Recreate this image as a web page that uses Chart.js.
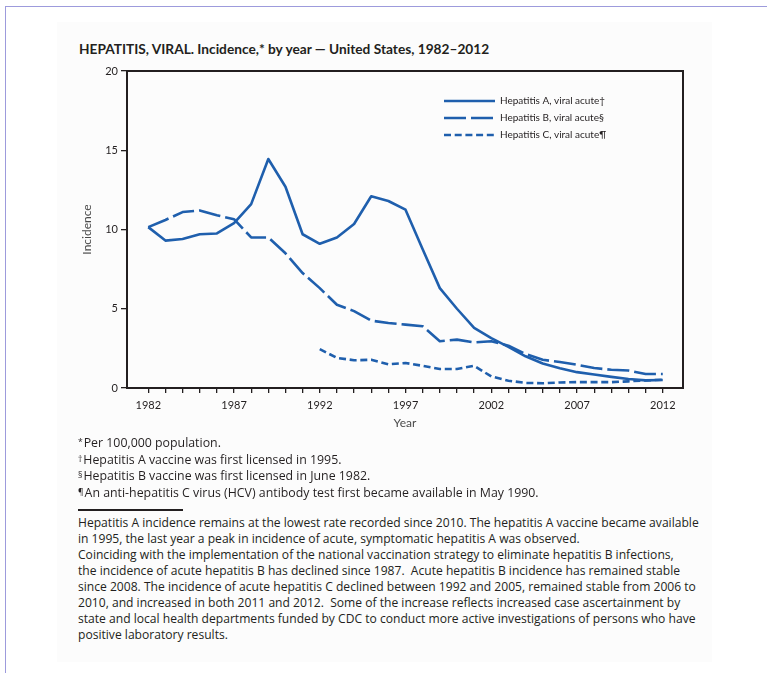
<!DOCTYPE html>
<html>
<head>
<meta charset="utf-8">
<title>Hepatitis, viral — incidence by year</title>
<script src="https://cdn.jsdelivr.net/npm/chart.js@4.4.1/dist/chart.umd.min.js"></script>
<style>
  html, body { margin: 0; padding: 0; background: #fff; }
  body { width: 767px; height: 673px; position: relative; overflow: hidden;
         font-family: "Open Sans", Lato, "Noto Sans", sans-serif; color: #231f20; }
  .frame { position: absolute; left: 5px; top: 6px; width: 800px; height: 700px;
           border-top: 1.5px solid #9d9bdc; border-left: 1.5px solid #9d9bdc; }
  .panel { position: absolute; left: 57px; top: 22px; width: 655px; height: 640px; background: #fcfcfc; }
  .title { position: absolute; left: 79px; top: 41px; font-family: Lato, "Noto Sans", sans-serif;
           font-weight: 700; font-size: 13.7px; line-height: 16px; white-space: nowrap; }
  .chart { position: absolute; left: 60px; top: 60px; width: 640px; height: 380px; }
  .notes { position: absolute; left: 78px; top: 435px; font-size: 12.35px; line-height: 16.6px; white-space: nowrap; }
  .notes sup { font-size: 8.5px; vertical-align: top; position: relative; top: -1px; margin-right: 1px; }
  .rule { position: absolute; left: 78px; top: 509px; width: 105px; height: 2px; background: #231f20; }
  .summary { position: absolute; left: 78px; top: 515px; font-size: 12.1px; line-height: 16px; white-space: nowrap; }
</style>
</head>
<body>
<div class="frame"></div>
<div class="panel"></div>
<div class="title">HEPATITIS, VIRAL. Incidence,* by year — United States, 1982–2012</div>
<div class="chart"><canvas id="incidence"></canvas></div>
<div class="notes">
  <div><sup>*</sup>Per 100,000 population.</div>
  <div><sup>†</sup>Hepatitis A vaccine was first licensed in 1995.</div>
  <div><sup>§</sup>Hepatitis B vaccine was first licensed in June 1982.</div>
  <div><sup>¶</sup>An anti-hepatitis C virus (HCV) antibody test first became available in May 1990.</div>
</div>
<div class="rule"></div>
<div class="summary">
  Hepatitis A incidence remains at the lowest rate recorded since 2010. The hepatitis A vaccine became available<br>
  in 1995, the last year a peak in incidence of acute, symptomatic hepatitis A was observed.<br>
  Coinciding with the implementation of the national vaccination strategy to eliminate hepatitis B infections,<br>
  the incidence of acute hepatitis B has declined since 1987.&nbsp; Acute hepatitis B incidence has remained stable<br>
  since 2008. The incidence of acute hepatitis C declined between 1992 and 2005, remained stable from 2006 to<br>
  2010, and increased in both 2011 and 2012.&nbsp; Some of the increase reflects increased case ascertainment by<br>
  state and local health departments funded by CDC to conduct more active investigations of persons who have<br>
  positive laboratory results.
</div>

<script>
// Reporting years
const years = [1982, 1983, 1984, 1985, 1986, 1987, 1988, 1989, 1990, 1991,
               1992, 1993, 1994, 1995, 1996, 1997, 1998, 1999, 2000, 2001,
               2002, 2003, 2004, 2005, 2006, 2007, 2008, 2009, 2010, 2011, 2012];

// Incidence per 100,000 population
const hepatitisA = [10.15, 9.3, 9.4, 9.7, 9.75, 10.4, 11.6, 14.45, 12.7, 9.7,
                    9.1, 9.5, 10.35, 12.1, 11.8, 11.25, 8.75, 6.3, 5.0, 3.8,
                    3.15, 2.6, 2.0, 1.55, 1.25, 1.0, 0.85, 0.7, 0.57, 0.48, 0.5];
const hepatitisB = [10.15, 10.6, 11.1, 11.2, 10.9, 10.65, 9.5, 9.5, 8.5, 7.25,
                    6.3, 5.25, 4.85, 4.25, 4.1, 4.0, 3.9, 2.95, 3.05, 2.88,
                    2.95, 2.67, 2.15, 1.78, 1.64, 1.47, 1.26, 1.15, 1.1, 0.88, 0.88];
// Hepatitis C reporting begins in 1992
const hepatitisC = [null, null, null, null, null, null, null, null, null, null,
                    2.45, 1.9, 1.75, 1.78, 1.5, 1.58, 1.4, 1.2, 1.2, 1.4,
                    0.73, 0.46, 0.32, 0.3, 0.35, 0.37, 0.37, 0.37, 0.42, 0.48, 0.52];

const seriesNames = ['Hepatitis A, viral acute†', 'Hepatitis B, viral acute§', 'Hepatitis C, viral acute¶'];
const yearTickLabels = [1982, 1987, 1992, 1997, 2002, 2007, 2012];
const incidenceTicks = [0, 5, 10, 15, 20];

const INK = '#231f20';
const BLUE = '#1f5fad';

Chart.defaults.font.family = 'Lato, "Noto Sans", sans-serif';
Chart.defaults.color = INK;

const toPoints = values => years.map((year, i) => ({ x: year, y: values[i] }));

function lineSeries(label, values, dash) {
  return {
    label,
    data: toPoints(values),
    borderColor: BLUE,
    backgroundColor: BLUE,
    borderWidth: 2.6,
    borderDash: dash,
    borderJoinStyle: 'round',
    borderCapStyle: 'butt',
    pointRadius: 0,
    tension: 0,
    spanGaps: false,
    fill: false
  };
}

// Puts the legend in the upper right of the plot frame
const legendPlacement = {
  id: 'legendPlacement',
  afterLayout(chart) {
    const lg = chart.legend;
    if (!lg) return;
    const pad = lg.options.labels.padding;
    const w = lg.width, h = lg.height;
    lg.left = 384 - pad;
    lg.top = 36 - pad;
    lg.right = lg.left + w;
    lg.bottom = lg.top + h;
  }
};

// Legend samples carry each series' own dash pattern and stroke
function lineSamples(chart) {
  const items = Chart.defaults.plugins.legend.labels.generateLabels(chart);
  items.forEach(item => {
    const ds = chart.data.datasets[item.datasetIndex];
    item.pointStyle = 'line';
    item.lineDash = ds.borderDash;
    item.lineWidth = ds.borderWidth;
    item.strokeStyle = ds.borderColor;
    item.fillStyle = ds.borderColor;
    item.lineCap = 'butt';
  });
  return items;
}

new Chart(document.getElementById('incidence'), {
  type: 'line',
  data: {
    datasets: [
      lineSeries(seriesNames[0], hepatitisA, []),
      lineSeries(seriesNames[1], hepatitisB, [22, 5]),
      lineSeries(seriesNames[2], hepatitisC, [7, 3.7])
    ]
  },
  plugins: [legendPlacement],
  options: {
    responsive: true,
    maintainAspectRatio: false,
    animation: false,
    events: [],
    layout: { padding: 0 },
    plugins: {
      tooltip: { enabled: false },
      legend: {
        display: true,
        position: 'chartArea',
        align: 'start',
        labels: {
          usePointStyle: true,
          pointStyle: 'line',
          pointStyleWidth: 51,
          boxWidth: 51,
          boxHeight: 10,
          padding: 7,
          color: INK,
          font: { size: 10 },
          generateLabels: lineSamples
        }
      }
    },
    scales: {
      x: {
        type: 'linear',
        position: 'bottom',
        min: 1980.76,
        max: 2013.18,
        afterBuildTicks: scale => { scale.ticks = years.map(v => ({ value: v })); },
        afterFit: scale => { scale.height = 52; },
        ticks: {
          autoSkip: false,
          maxRotation: 0,
          padding: 6,
          color: INK,
          font: { size: 11 },
          callback: v => yearTickLabels.includes(v) ? String(v) : ''
        },
        grid: { drawOnChartArea: false, drawTicks: true, tickLength: 5, color: INK, lineWidth: 1.3 },
        border: { display: true, color: INK, width: 2 },
        title: { display: true, text: 'Year', color: '#4a4a4a', font: { size: 12 }, padding: { top: 0, bottom: 9.8 } }
      },
      y: {
        type: 'linear',
        position: 'left',
        min: 0,
        max: 20,
        afterBuildTicks: scale => { scale.ticks = incidenceTicks.map(v => ({ value: v })); },
        afterFit: scale => { scale.width = 67; },
        ticks: { padding: 3, color: INK, font: { size: 11 } },
        grid: { drawOnChartArea: false, drawTicks: true, tickLength: 6, color: INK, lineWidth: 1.3 },
        border: { display: true, color: INK, width: 2 },
        title: { display: true, text: 'Incidence', color: '#4a4a4a', font: { size: 12 }, padding: { top: 19.5, bottom: 0 } }
      },
      frameTop: {
        type: 'linear',
        position: 'top',
        axis: 'x',
        afterFit: scale => { scale.height = 11; },
        ticks: { display: false },
        grid: { display: false },
        border: { display: true, color: INK, width: 2 }
      },
      frameRight: {
        type: 'linear',
        position: 'right',
        axis: 'y',
        afterFit: scale => { scale.width = 17; },
        ticks: { display: false },
        grid: { display: false },
        border: { display: true, color: INK, width: 2 }
      }
    }
  }
});
</script>
</body>
</html>
